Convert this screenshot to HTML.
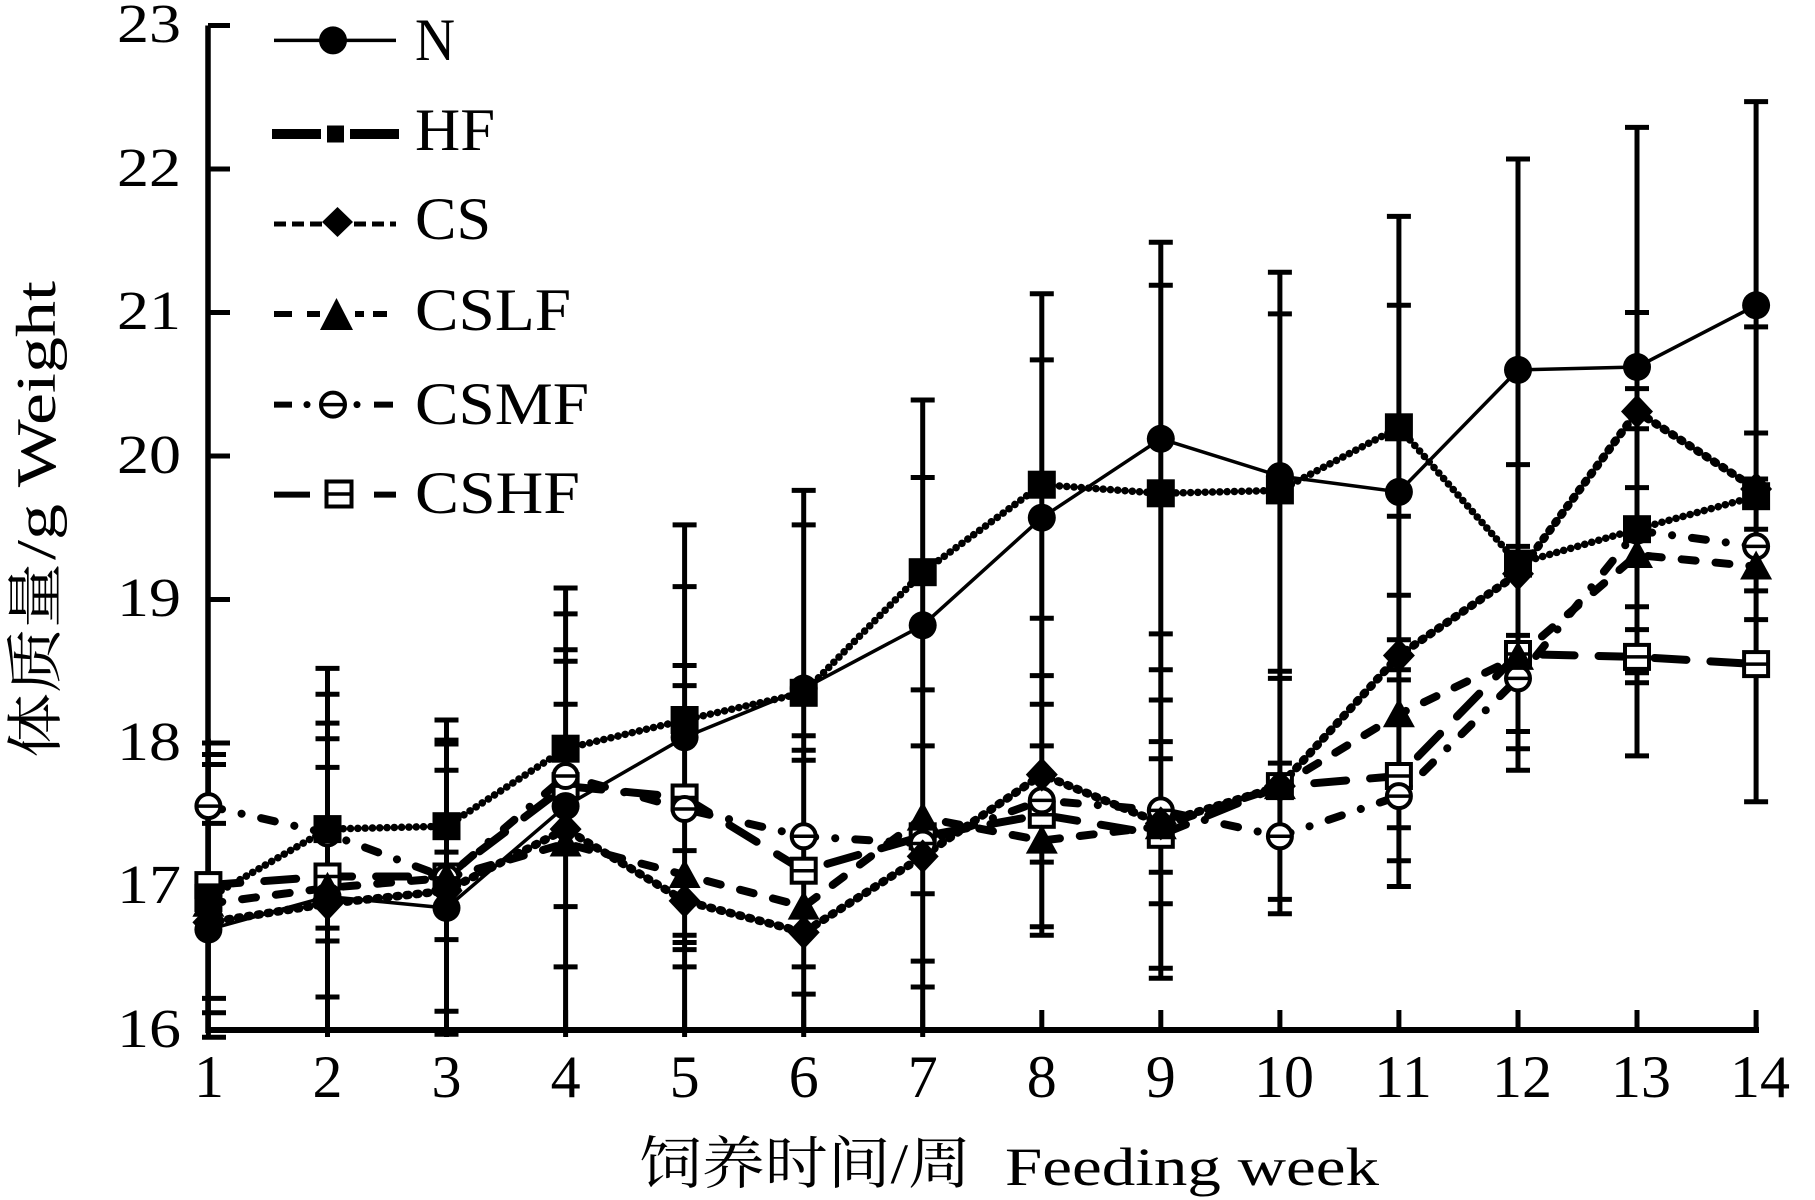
<!DOCTYPE html>
<html>
<head>
<meta charset="utf-8">
<style>
  html,body{margin:0;padding:0;background:#fff;}
  svg{display:block;}
  text{fill:#000;}
  .lat{font-family:"Liberation Serif","Times New Roman",serif;}
  .cjk{font-family:"Liberation Serif","Noto Serif CJK SC","Noto Sans CJK SC",serif;}
</style>
</head>
<body>
<svg width="1815" height="1200" viewBox="0 0 1815 1200" xmlns="http://www.w3.org/2000/svg">
<defs>
  <g id="mN"><circle r="14" fill="#000"/></g>
  <g id="mHF"><rect x="-14" y="-14" width="28" height="28" fill="#000"/></g>
  <g id="mCS"><polygon points="0,-17 16,0 0,17 -16,0" fill="#000"/></g>
  <g id="mLF"><polygon points="0,-16 16,13 -16,13" fill="#000"/></g>
  <g id="mMF"><circle r="12" fill="#fff" stroke="#000" stroke-width="4"/><line x1="-12" y1="0" x2="12" y2="0" stroke="#000" stroke-width="3.5"/></g>
  <g id="mSH"><rect x="-12" y="-12" width="24" height="24" fill="#fff" stroke="#000" stroke-width="4"/><line x1="-12" y1="0" x2="12" y2="0" stroke="#000" stroke-width="3.5"/></g>
</defs>

<!-- error bars -->
<path fill="none" stroke="#000" stroke-width="5" d="
M208.4,738.7V1037 M202,743H226 M202,754.5H226 M202,764.5H226 M202,823.4H226 M202,998.4H226 M202,1012.8H226 M202,1037.2H226
M327.5,668.4V1037 M315.5,668.4H339.5 M315.5,694.2H339.5 M315.5,723.1H339.5 M315.5,738.7H339.5 M315.5,767.4H339.5 M315.5,928.1H339.5 M315.5,941H339.5 M315.5,997H339.5
M446.5,720V1037 M434.5,720H458.5 M434.5,740.1H458.5 M434.5,744H458.5 M434.5,770.3H458.5 M434.5,852.1H458.5 M434.5,939.6H458.5 M434.5,1011.3H458.5 M434.5,1034.3H458.5
M565.6,588V1037 M553.6,588H577.6 M553.6,613.9H577.6 M553.6,649.7H577.6 M553.6,661.2H577.6 M553.6,704.3H577.6 M553.6,906.6H577.6 M553.6,966.9H577.6
M684.6,524.9V1037 M672.6,524.9H696.6 M672.6,586.6H696.6 M672.6,665.5H696.6 M672.6,685.6H696.6 M672.6,850.6H696.6 M672.6,935.3H696.6 M672.6,942.5H696.6 M672.6,949.6H696.6 M672.6,966.9H696.6
M803.7,490.4V1037 M791.7,490.4H815.7 M791.7,524.9H815.7 M791.7,735.8H815.7 M791.7,750.2H815.7 M791.7,760.2H815.7 M791.7,966.9H815.7 M791.7,994.1H815.7
M922.7,400V1037 M910.7,400H934.7 M910.7,477.5H934.7 M910.7,689.9H934.7 M910.7,745.9H934.7 M910.7,893.7H934.7 M910.7,961.1H934.7 M910.7,987H934.7
M1041.8,293.8V935.3 M1029.8,293.8H1053.8 M1029.8,359.9H1053.8 M1029.8,618.2H1053.8 M1029.8,675.6H1053.8 M1029.8,704.3H1053.8 M1029.8,745.9H1053.8 M1029.8,862.1H1053.8 M1029.8,926.7H1053.8 M1029.8,935.3H1053.8
M1160.8,242.2V978.3 M1148.8,242.2H1172.8 M1148.8,285.2H1172.8 M1148.8,633.9H1172.8 M1148.8,669.8H1172.8 M1148.8,700H1172.8 M1148.8,741.6H1172.8 M1148.8,758.8H1172.8 M1148.8,872.2H1172.8 M1148.8,903.7H1172.8 M1148.8,968.3H1172.8 M1148.8,978.3H1172.8
M1279.9,272.3V913.8 M1267.9,272.3H1291.9 M1267.9,313.9H1291.9 M1267.9,671.3H1291.9 M1267.9,678.4H1291.9 M1267.9,763.1H1291.9 M1267.9,899.4H1291.9 M1267.9,913.8H1291.9
M1398.9,216.4V886.5 M1386.9,216.4H1410.9 M1386.9,305.3H1410.9 M1386.9,516.3H1410.9 M1386.9,595.2H1410.9 M1386.9,639.7H1410.9 M1386.9,669.8H1410.9 M1386.9,679.9H1410.9 M1386.9,827.7H1410.9 M1386.9,860.7H1410.9 M1386.9,886.5H1410.9
M1518,159V770.3 M1506,159H1530 M1506,464.6H1530 M1506,546.4H1530 M1506,635.4H1530 M1506,731.5H1530 M1506,748.7H1530 M1506,770.3H1530
M1637,127.4V755.9 M1625,127.4H1649 M1625,312.5H1649 M1625,388.6H1649 M1625,428.7H1649 M1625,487.6H1649 M1625,606.7H1649 M1625,629.6H1649 M1625,672.7H1649 M1625,682.7H1649 M1625,755.9H1649
M1756.1,101.6V801.8 M1744.1,101.6H1768.1 M1744.1,326.9H1768.1 M1744.1,433H1768.1 M1744.1,479H1768.1 M1744.1,529.2H1768.1 M1744.1,590.9H1768.1 M1744.1,619.6H1768.1 M1744.1,801.8H1768.1
"/>

<!-- axes -->
<path fill="none" stroke="#000" stroke-width="5.5" d="M208,25.5V1033"/>
<path fill="none" stroke="#000" stroke-width="6" d="M205.5,1030H1759"/>
<path fill="none" stroke="#000" stroke-width="5" d="
M208,25.5H230 M208,169H230 M208,312.5H230 M208,456H230 M208,599.5H230 M208,743H230 M208,886.5H230
M327.5,1030V1010 M446.5,1030V1010 M565.6,1030V1010 M684.6,1030V1010 M803.7,1030V1010 M922.7,1030V1010 M1041.8,1030V1010 M1160.8,1030V1010 M1279.9,1030V1010 M1398.9,1030V1010 M1518,1030V1010 M1637,1030V1010 M1756.1,1030V1010"/>

<!-- series lines -->
<polyline fill="none" stroke="#000" stroke-width="3.5" points="208.4,929.6 327.5,896.5 446.5,908.0 565.6,806.1 684.6,737.3 803.7,688.5 922.7,625.3 1041.8,517.7 1160.8,438.8 1279.9,476.1 1398.9,491.9 1518.0,369.9 1637.0,367.0 1756.1,305.3"/>
<polyline fill="none" stroke="#000" stroke-width="7.5" stroke-linecap="round" stroke-dasharray="0.1 7.2" points="208.4,898.0 327.5,829.1 446.5,826.2 565.6,748.7 684.6,720.0 803.7,692.8 922.7,572.2 1041.8,484.7 1160.8,493.3 1279.9,490.4 1398.9,427.3 1518.0,563.6 1637.0,529.2 1756.1,496.2"/>
<polyline fill="none" stroke="#000" stroke-width="8.5" stroke-linecap="round" stroke-dasharray="2 8" points="208.4,922.4 327.5,903.7 446.5,890.8 565.6,829.1 684.6,900.9 803.7,932.4 922.7,856.4 1041.8,774.6 1160.8,823.4 1279.9,786.1 1398.9,655.5 1518.0,573.7 1637.0,411.5 1756.1,489.0"/>
<polyline fill="none" stroke="#000" stroke-width="8" stroke-linecap="round" stroke-dasharray="14 20" points="208.4,903.7 327.5,887.9 446.5,877.9 565.6,843.5 684.6,875.0 803.7,906.6 922.7,817.6 1041.8,840.6 1160.8,826.2 1279.9,786.1 1398.9,714.3 1518.0,656.9 1637.0,555.0 1756.1,566.5"/>
<polyline fill="none" stroke="#000" stroke-width="8" stroke-linecap="round" stroke-dasharray="14 20 0.1 20" points="208.4,806.1 327.5,833.4 446.5,877.9 565.6,776.0 684.6,809.0 803.7,836.3 922.7,843.5 1041.8,800.4 1160.8,810.4 1279.9,836.3 1398.9,796.1 1518.0,678.4 1637.0,530.6 1756.1,546.4"/>
<polyline fill="none" stroke="#000" stroke-width="8" stroke-linecap="round" stroke-dasharray="32 24" points="208.4,885.1 327.5,876.5 446.5,876.5 565.6,786.1 684.6,797.5 803.7,870.7 922.7,836.3 1041.8,814.8 1160.8,834.8 1279.9,786.1 1398.9,776.0 1518.0,654.0 1637.0,656.9 1756.1,664.1"/>

<!-- markers: CSHF -->
<use href="#mSH" x="208.4" y="885.1"/><use href="#mSH" x="327.5" y="876.5"/><use href="#mSH" x="446.5" y="876.5"/><use href="#mSH" x="565.6" y="786.1"/><use href="#mSH" x="684.6" y="797.5"/><use href="#mSH" x="803.7" y="870.7"/><use href="#mSH" x="922.7" y="836.3"/><use href="#mSH" x="1041.8" y="814.8"/><use href="#mSH" x="1160.8" y="834.8"/><use href="#mSH" x="1279.9" y="786.1"/><use href="#mSH" x="1398.9" y="776.0"/><use href="#mSH" x="1518.0" y="654.0"/><use href="#mSH" x="1637.0" y="656.9"/><use href="#mSH" x="1756.1" y="664.1"/>
<!-- CSMF -->
<use href="#mMF" x="208.4" y="806.1"/><use href="#mMF" x="327.5" y="833.4"/><use href="#mMF" x="446.5" y="877.9"/><use href="#mMF" x="565.6" y="776.0"/><use href="#mMF" x="684.6" y="809.0"/><use href="#mMF" x="803.7" y="836.3"/><use href="#mMF" x="922.7" y="843.5"/><use href="#mMF" x="1041.8" y="800.4"/><use href="#mMF" x="1160.8" y="810.4"/><use href="#mMF" x="1279.9" y="836.3"/><use href="#mMF" x="1398.9" y="796.1"/><use href="#mMF" x="1518.0" y="678.4"/><use href="#mMF" x="1637.0" y="530.6"/><use href="#mMF" x="1756.1" y="546.4"/>
<!-- CSLF -->
<use href="#mLF" x="208.4" y="903.7"/><use href="#mLF" x="327.5" y="887.9"/><use href="#mLF" x="446.5" y="877.9"/><use href="#mLF" x="565.6" y="843.5"/><use href="#mLF" x="684.6" y="875.0"/><use href="#mLF" x="803.7" y="906.6"/><use href="#mLF" x="922.7" y="817.6"/><use href="#mLF" x="1041.8" y="840.6"/><use href="#mLF" x="1160.8" y="826.2"/><use href="#mLF" x="1279.9" y="786.1"/><use href="#mLF" x="1398.9" y="714.3"/><use href="#mLF" x="1518.0" y="656.9"/><use href="#mLF" x="1637.0" y="555.0"/><use href="#mLF" x="1756.1" y="566.5"/>
<!-- CS -->
<use href="#mCS" x="208.4" y="922.4"/><use href="#mCS" x="327.5" y="903.7"/><use href="#mCS" x="446.5" y="890.8"/><use href="#mCS" x="565.6" y="829.1"/><use href="#mCS" x="684.6" y="900.9"/><use href="#mCS" x="803.7" y="932.4"/><use href="#mCS" x="922.7" y="856.4"/><use href="#mCS" x="1041.8" y="774.6"/><use href="#mCS" x="1160.8" y="823.4"/><use href="#mCS" x="1279.9" y="786.1"/><use href="#mCS" x="1398.9" y="655.5"/><use href="#mCS" x="1518.0" y="573.7"/><use href="#mCS" x="1637.0" y="411.5"/><use href="#mCS" x="1756.1" y="489.0"/>
<!-- HF -->
<use href="#mHF" x="208.4" y="898.0"/><use href="#mHF" x="327.5" y="829.1"/><use href="#mHF" x="446.5" y="826.2"/><use href="#mHF" x="565.6" y="748.7"/><use href="#mHF" x="684.6" y="720.0"/><use href="#mHF" x="803.7" y="692.8"/><use href="#mHF" x="922.7" y="572.2"/><use href="#mHF" x="1041.8" y="484.7"/><use href="#mHF" x="1160.8" y="493.3"/><use href="#mHF" x="1279.9" y="490.4"/><use href="#mHF" x="1398.9" y="427.3"/><use href="#mHF" x="1518.0" y="563.6"/><use href="#mHF" x="1637.0" y="529.2"/><use href="#mHF" x="1756.1" y="496.2"/>
<!-- N -->
<use href="#mN" x="208.4" y="929.6"/><use href="#mN" x="327.5" y="896.5"/><use href="#mN" x="446.5" y="908.0"/><use href="#mN" x="565.6" y="806.1"/><use href="#mN" x="684.6" y="737.3"/><use href="#mN" x="803.7" y="688.5"/><use href="#mN" x="922.7" y="625.3"/><use href="#mN" x="1041.8" y="517.7"/><use href="#mN" x="1160.8" y="438.8"/><use href="#mN" x="1279.9" y="476.1"/><use href="#mN" x="1398.9" y="491.9"/><use href="#mN" x="1518.0" y="369.9"/><use href="#mN" x="1637.0" y="367.0"/><use href="#mN" x="1756.1" y="305.3"/>

<!-- legend -->
<g stroke="#000" fill="none">
  <path d="M274,40.4H396" stroke-width="3.5"/>
  <path d="M272,134H321 M350,134H399" stroke-width="10"/>
  <path d="M274,224H322" stroke-width="5" stroke-dasharray="12 6"/>
  <path d="M354,224H396" stroke-width="5" stroke-dasharray="12 6"/>
  <path d="M274,314H292 M307,314H320 M355,314H364 M373,314H387" stroke-width="6"/>
  <path d="M274,404.6H292 M374,404.6H393" stroke-width="6"/>
  <path d="M274,494.6H310 M374,494.6H396" stroke-width="6"/>
</g>
<circle cx="307" cy="404.6" r="3.5" fill="#000"/>
<circle cx="357" cy="404.6" r="3.5" fill="#000"/>
<circle cx="333" cy="40.4" r="14" fill="#000"/>
<rect x="327" y="125.5" width="17" height="17" fill="#000"/>
<polygon points="337.5,207 353,222 337.5,237 322,222" fill="#000"/>
<polygon points="336.5,298 353,330 320,330" fill="#000"/>
<circle cx="333" cy="404.6" r="12" fill="#fff" stroke="#000" stroke-width="4"/>
<line x1="321" y1="404.6" x2="345" y2="404.6" stroke="#000" stroke-width="3.5"/>
<rect x="326.5" y="481.5" width="25" height="25" fill="#fff" stroke="#000" stroke-width="4"/>
<line x1="326.5" y1="494" x2="351.5" y2="494" stroke="#000" stroke-width="3.5"/>

<g class="lat" font-size="60">
  <text x="415" y="60" textLength="40" lengthAdjust="spacingAndGlyphs">N</text>
  <text x="415" y="150" textLength="80" lengthAdjust="spacingAndGlyphs">HF</text>
  <text x="415" y="239" textLength="76" lengthAdjust="spacingAndGlyphs">CS</text>
  <text x="415" y="330" textLength="156" lengthAdjust="spacingAndGlyphs">CSLF</text>
  <text x="415" y="424" textLength="174" lengthAdjust="spacingAndGlyphs">CSMF</text>
  <text x="415" y="513" textLength="165" lengthAdjust="spacingAndGlyphs">CSHF</text>
</g>

<!-- y tick labels -->
<g class="lat" font-size="55" text-anchor="end">
  <text x="181" y="42" textLength="64" lengthAdjust="spacingAndGlyphs">23</text>
  <text x="181" y="186" textLength="64" lengthAdjust="spacingAndGlyphs">22</text>
  <text x="181" y="329" textLength="64" lengthAdjust="spacingAndGlyphs">21</text>
  <text x="181" y="473" textLength="64" lengthAdjust="spacingAndGlyphs">20</text>
  <text x="181" y="616" textLength="64" lengthAdjust="spacingAndGlyphs">19</text>
  <text x="181" y="760" textLength="64" lengthAdjust="spacingAndGlyphs">18</text>
  <text x="181" y="903" textLength="64" lengthAdjust="spacingAndGlyphs">17</text>
  <text x="181" y="1047" textLength="64" lengthAdjust="spacingAndGlyphs">16</text>
</g>

<!-- x tick labels -->
<g class="lat" font-size="60" text-anchor="middle">
  <text x="209" y="1097">1</text>
  <text x="327.5" y="1097">2</text>
  <text x="446.5" y="1097">3</text>
  <text x="565.6" y="1097">4</text>
  <text x="684.6" y="1097">5</text>
  <text x="803.7" y="1097">6</text>
  <text x="922.7" y="1097">7</text>
  <text x="1041.8" y="1097">8</text>
  <text x="1160.8" y="1097">9</text>
  <text x="1284" y="1097">10</text>
  <text x="1403" y="1097">11</text>
  <text x="1522" y="1097">12</text>
  <text x="1641" y="1097">13</text>
  <text x="1760" y="1097">14</text>
</g>

<!-- axis titles -->
<text class="cjk" x="639" y="1183" font-size="57" textLength="332" lengthAdjust="spacingAndGlyphs">饲养时间/周</text>
<text class="lat" x="1005" y="1185" font-size="54" textLength="374" lengthAdjust="spacingAndGlyphs">Feeding week</text>

<g transform="translate(55,758) rotate(-90)">
  <text class="cjk" x="0" y="0" font-size="57" textLength="195" lengthAdjust="spacingAndGlyphs">体质量</text>
  <text class="lat" x="198" y="0" font-size="56" textLength="279" lengthAdjust="spacingAndGlyphs">/g  Weight</text>
</g>
</svg>
</body>
</html>
